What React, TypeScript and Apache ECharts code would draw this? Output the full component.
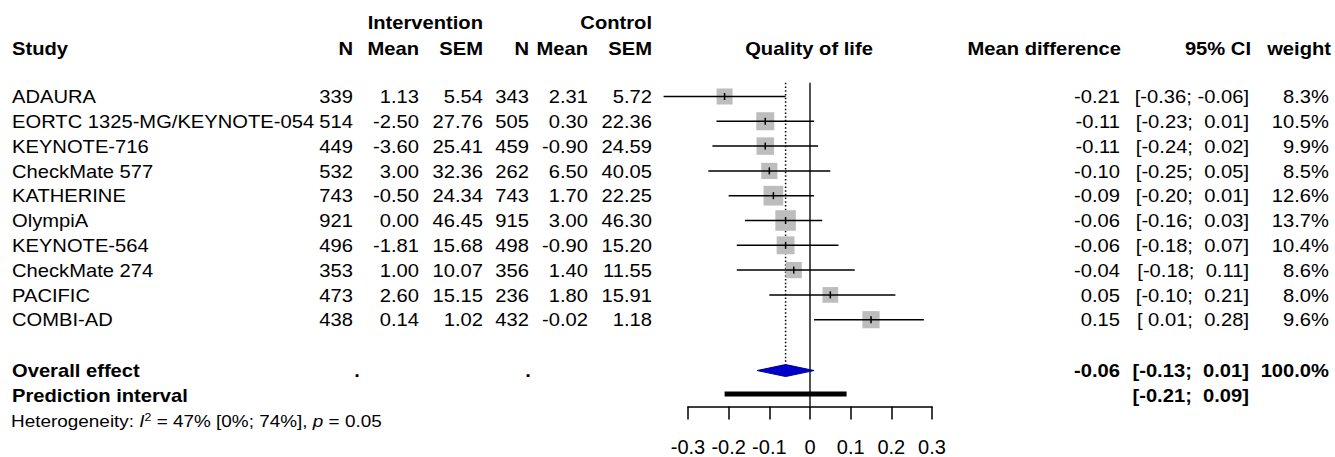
import React, { useEffect, useRef } from "react";
import * as echarts from "echarts";

// ---- data ----
const studies = [
  "ADAURA",
  "EORTC 1325-MG/KEYNOTE-054",
  "KEYNOTE-716",
  "CheckMate 577",
  "KATHERINE",
  "OlympiA",
  "KEYNOTE-564",
  "CheckMate 274",
  "PACIFIC",
  "COMBI-AD",
];
const nInt = [339, 514, 449, 532, 743, 921, 496, 353, 473, 438];
const meanInt = [1.13, -2.5, -3.6, 3.0, -0.5, 0.0, -1.81, 1.0, 2.6, 0.14];
const semInt = [5.54, 27.76, 25.41, 32.36, 24.34, 46.45, 15.68, 10.07, 15.15, 1.02];
const nCtl = [343, 505, 459, 262, 743, 915, 498, 356, 236, 432];
const meanCtl = [2.31, 0.3, -0.9, 6.5, 1.7, 3.0, -0.9, 1.4, 1.8, -0.02];
const semCtl = [5.72, 22.36, 24.59, 40.05, 22.25, 46.3, 15.2, 11.55, 15.91, 1.18];
const md = [-0.21, -0.11, -0.11, -0.1, -0.09, -0.06, -0.06, -0.04, 0.05, 0.15];
const ciLo = [-0.36, -0.23, -0.24, -0.25, -0.2, -0.16, -0.18, -0.18, -0.1, 0.01];
const ciHi = [-0.06, 0.01, 0.02, 0.05, 0.01, 0.03, 0.07, 0.11, 0.21, 0.28];
const weights = [8.3, 10.5, 9.9, 8.5, 12.6, 13.7, 10.4, 8.6, 8.0, 9.6];

const overall = { md: -0.06, lo: -0.13, hi: 0.01, weight: 100.0 };
const prediction = { lo: -0.21, hi: 0.09 };
const heterogeneity = { i2: 47, i2Lo: 0, i2Hi: 74, p: 0.05 };

const tickLabels = ["-0.3", "-0.2", "-0.1", "0", "0.1", "0.2", "0.3"];

// ---- layout ----
const W = 1335;
const H = 457;
const ROW0 = 96.5;
const ROWH = 24.8;
const rowY = (i: number) => ROW0 + ROWH * i;
const OVERALL_ROW = 11;
const PRED_ROW = 12;
const FONT = "'Liberation Sans', Arial, sans-serif";
const FS = 18;
const SX = 1.12;
const SQ_K = 5.55;

const col = {
  study: 12,
  nInt: 353,
  meanInt: 419,
  semInt: 483,
  nCtl: 529,
  meanCtl: 588,
  semCtl: 652,
  plotCenter: 809,
  md: 1120,
  ci: 1249,
  w: 1329,
};

const f2 = (v: number) => v.toFixed(2);
const fci = (v: number) => (v < 0 ? v.toFixed(2) : " " + v.toFixed(2));
const ciText = (lo: number, hi: number) => `[${fci(lo)}; ${fci(hi)}]`;

function txt(
  text: string,
  x: number,
  y: number,
  align: string,
  opts: { bold?: boolean; size?: number } = {}
) {
  return {
    type: "text",
    x,
    y,
    scaleX: SX,
    silent: true,
    style: {
      text,
      fill: "#000",
      fontSize: opts.size ?? FS,
      fontWeight: opts.bold ? "bold" : "normal",
      fontFamily: FONT,
      align,
      verticalAlign: "middle",
      textAlign: align,
      textVerticalAlign: "middle",
    },
  };
}

function buildGraphics() {
  const g: any[] = [];
  // headers
  g.push(txt("Intervention", col.semInt, 22.5, "right", { bold: true }));
  g.push(txt("Control", col.semCtl, 22.5, "right", { bold: true }));
  const hy = 48.5;
  g.push(txt("Study", col.study, hy, "left", { bold: true }));
  g.push(txt("N", col.nInt, hy, "right", { bold: true }));
  g.push(txt("Mean", col.meanInt, hy, "right", { bold: true }));
  g.push(txt("SEM", col.semInt, hy, "right", { bold: true }));
  g.push(txt("N", col.nCtl, hy, "right", { bold: true }));
  g.push(txt("Mean", col.meanCtl, hy, "right", { bold: true }));
  g.push(txt("SEM", col.semCtl, hy, "right", { bold: true }));
  g.push(txt("Quality of life", col.plotCenter, hy, "center", { bold: true }));
  g.push(txt("Mean difference", col.md + 1, hy, "right", { bold: true }));
  g.push(txt("95% CI", col.ci + 2, hy, "right", { bold: true }));
  g.push(txt("weight", col.w + 2, hy, "right", { bold: true }));

  studies.forEach((s, i) => {
    const y = rowY(i) + 0.5;
    g.push(txt(s, col.study, y, "left"));
    g.push(txt(String(nInt[i]), col.nInt, y, "right"));
    g.push(txt(f2(meanInt[i]), col.meanInt, y, "right"));
    g.push(txt(f2(semInt[i]), col.semInt, y, "right"));
    g.push(txt(String(nCtl[i]), col.nCtl, y, "right"));
    g.push(txt(f2(meanCtl[i]), col.meanCtl, y, "right"));
    g.push(txt(f2(semCtl[i]), col.semCtl, y, "right"));
    g.push(txt(f2(md[i]), col.md, y, "right"));
    g.push(txt(ciText(ciLo[i], ciHi[i]), col.ci, y, "right"));
    g.push(txt(weights[i].toFixed(1) + "%", col.w, y, "right"));
  });

  const oy = rowY(OVERALL_ROW) + 1.5;
  g.push(txt("Overall effect", col.study, oy, "left", { bold: true }));
  g.push(txt(".", 357, oy, "center", { bold: true }));
  g.push(txt(".", 528, oy, "center", { bold: true }));
  g.push(txt(f2(overall.md), col.md, oy, "right", { bold: true }));
  g.push(txt(ciText(overall.lo, overall.hi), col.ci, oy, "right", { bold: true }));
  g.push(txt(overall.weight.toFixed(1) + "%", col.w, oy, "right", { bold: true }));

  const py = rowY(PRED_ROW) + 1.5;
  g.push(txt("Prediction interval", col.study, py, "left", { bold: true }));
  g.push(txt(ciText(prediction.lo, prediction.hi), col.ci, py, "right", { bold: true }));

  const hs = 16.9;
  const base = { fontSize: hs, fontFamily: FONT, fill: "#000", lineHeight: 20 };
  g.push({
    type: "text",
    x: 11,
    y: 421,
    scaleX: SX,
    silent: true,
    style: {
      text:
        "{n|Heterogeneity: }{i|I}{s|2}{n| = " +
        heterogeneity.i2 +
        "% [" +
        heterogeneity.i2Lo +
        "%; " +
        heterogeneity.i2Hi +
        "%], }{i|p}{n| = " +
        heterogeneity.p.toFixed(2) +
        "}",
      align: "left",
      verticalAlign: "middle",
      textAlign: "left",
      textVerticalAlign: "middle",
      rich: {
        n: { ...base },
        i: { ...base, fontStyle: "italic" },
        s: { fontSize: 11, fontFamily: FONT, fill: "#000", verticalAlign: "top", lineHeight: 12 },
      },
    },
  });
  return g;
}

export default function App() {
  const ref = useRef<HTMLDivElement>(null);

  useEffect(() => {
    if (!ref.current) return;
    const chart = echarts.init(ref.current, undefined, { renderer: "svg" });

    const studyData = studies.map((_, i) => [md[i], i, ciLo[i], ciHi[i], weights[i]]);
    const gridTop = ROW0 - 0.5 * ROWH;
    const gridHeight = 13 * ROWH;

    const lineStyleBlack = { stroke: "#000", lineWidth: 1.5 };

    const option: any = {
      animation: false,
      backgroundColor: "#fff",
      grid: {
        left: 688,
        width: 244,
        top: gridTop,
        height: gridHeight,
        containLabel: false,
      },
      xAxis: {
        type: "value",
        min: -0.3,
        max: 0.3,
        interval: 0.1,
        axisLine: { show: true, onZero: false, lineStyle: { color: "#000", width: 1.5 } },
        axisTick: { show: true, inside: false, length: 13, lineStyle: { color: "#000", width: 1.5 } },
        axisLabel: {
          color: "#000",
          fontSize: 20,
          fontFamily: FONT,
          margin: 30,
          formatter: (_v: number, idx: number) => tickLabels[idx] ?? "",
        },
        splitLine: { show: false },
      },
      yAxis: {
        type: "value",
        inverse: true,
        min: -0.5,
        max: 12.5,
        show: false,
        splitLine: { show: false },
      },
      series: [
        {
          // no-effect line at 0
          type: "custom",
          silent: true,
          data: [[0, -0.55, 12.5]],
          encode: { x: 0, y: [1, 2] },
          renderItem: (_p: any, api: any) => {
            const a = api.coord([api.value(0), api.value(1)]);
            const b = api.coord([api.value(0), api.value(2)]);
            return {
              type: "line",
              shape: { x1: a[0], y1: a[1], x2: b[0], y2: b[1] },
              style: { stroke: "#1a1a1a", lineWidth: 1.5 },
            };
          },
        },
        {
          // dotted overall-effect line
          type: "custom",
          silent: true,
          data: [[overall.md, -0.55, 10.8]],
          encode: { x: 0, y: [1, 2] },
          renderItem: (_p: any, api: any) => {
            const a = api.coord([api.value(0), api.value(1)]);
            const b = api.coord([api.value(0), api.value(2)]);
            return {
              type: "line",
              shape: { x1: a[0], y1: a[1], x2: b[0], y2: b[1] },
              style: { stroke: "#000", lineWidth: 1.5, lineDash: [1.5, 2.2] },
            };
          },
        },
        {
          // study squares + CIs
          type: "custom",
          silent: true,
          data: studyData,
          encode: { x: [0, 2, 3], y: 1 },
          renderItem: (_p: any, api: any) => {
            const yv = api.value(1);
            const p = api.coord([api.value(0), yv]);
            const l = api.coord([api.value(2), yv]);
            const r = api.coord([api.value(3), yv]);
            const s = SQ_K * Math.sqrt(api.value(4));
            return {
              type: "group",
              children: [
                {
                  type: "rect",
                  shape: { x: p[0] - s / 2, y: p[1] - s / 2, width: s, height: s },
                  style: { fill: "#bdbdbd" },
                },
                {
                  type: "line",
                  shape: { x1: l[0], y1: l[1], x2: r[0], y2: r[1] },
                  style: lineStyleBlack,
                },
                {
                  type: "line",
                  shape: { x1: p[0], y1: p[1] - 3.5, x2: p[0], y2: p[1] + 3.5 },
                  style: lineStyleBlack,
                },
              ],
            };
          },
        },
        {
          // overall diamond
          type: "custom",
          silent: true,
          data: [[overall.md, OVERALL_ROW + 0.05, overall.lo, overall.hi]],
          encode: { x: [0, 2, 3], y: 1 },
          renderItem: (_p: any, api: any) => {
            const yv = api.value(1);
            const p = api.coord([api.value(0), yv]);
            const l = api.coord([api.value(2), yv]);
            const r = api.coord([api.value(3), yv]);
            const h = 6;
            return {
              type: "polygon",
              shape: {
                points: [
                  [l[0], l[1]],
                  [p[0], p[1] - h],
                  [r[0], r[1]],
                  [p[0], p[1] + h],
                ],
              },
              style: { fill: "#0000cd", stroke: "#00008b", lineWidth: 1 },
            };
          },
        },
        {
          // prediction interval bar
          type: "custom",
          silent: true,
          data: [[prediction.lo, PRED_ROW, prediction.hi]],
          encode: { x: [0, 2], y: 1 },
          renderItem: (_p: any, api: any) => {
            const yv = api.value(1);
            const a = api.coord([api.value(0), yv]);
            const b = api.coord([api.value(2), yv]);
            return {
              type: "line",
              shape: { x1: a[0], y1: a[1], x2: b[0], y2: b[1] },
              style: { stroke: "#000", lineWidth: 5, lineCap: "butt" },
            };
          },
        },
      ],
      graphic: buildGraphics(),
    };

    chart.setOption(option);
    return () => chart.dispose();
  }, []);

  return (
    <div
      ref={ref}
      style={{ position: "fixed", left: 0, top: 0, width: W, height: H, background: "#fff" }}
    />
  );
}
